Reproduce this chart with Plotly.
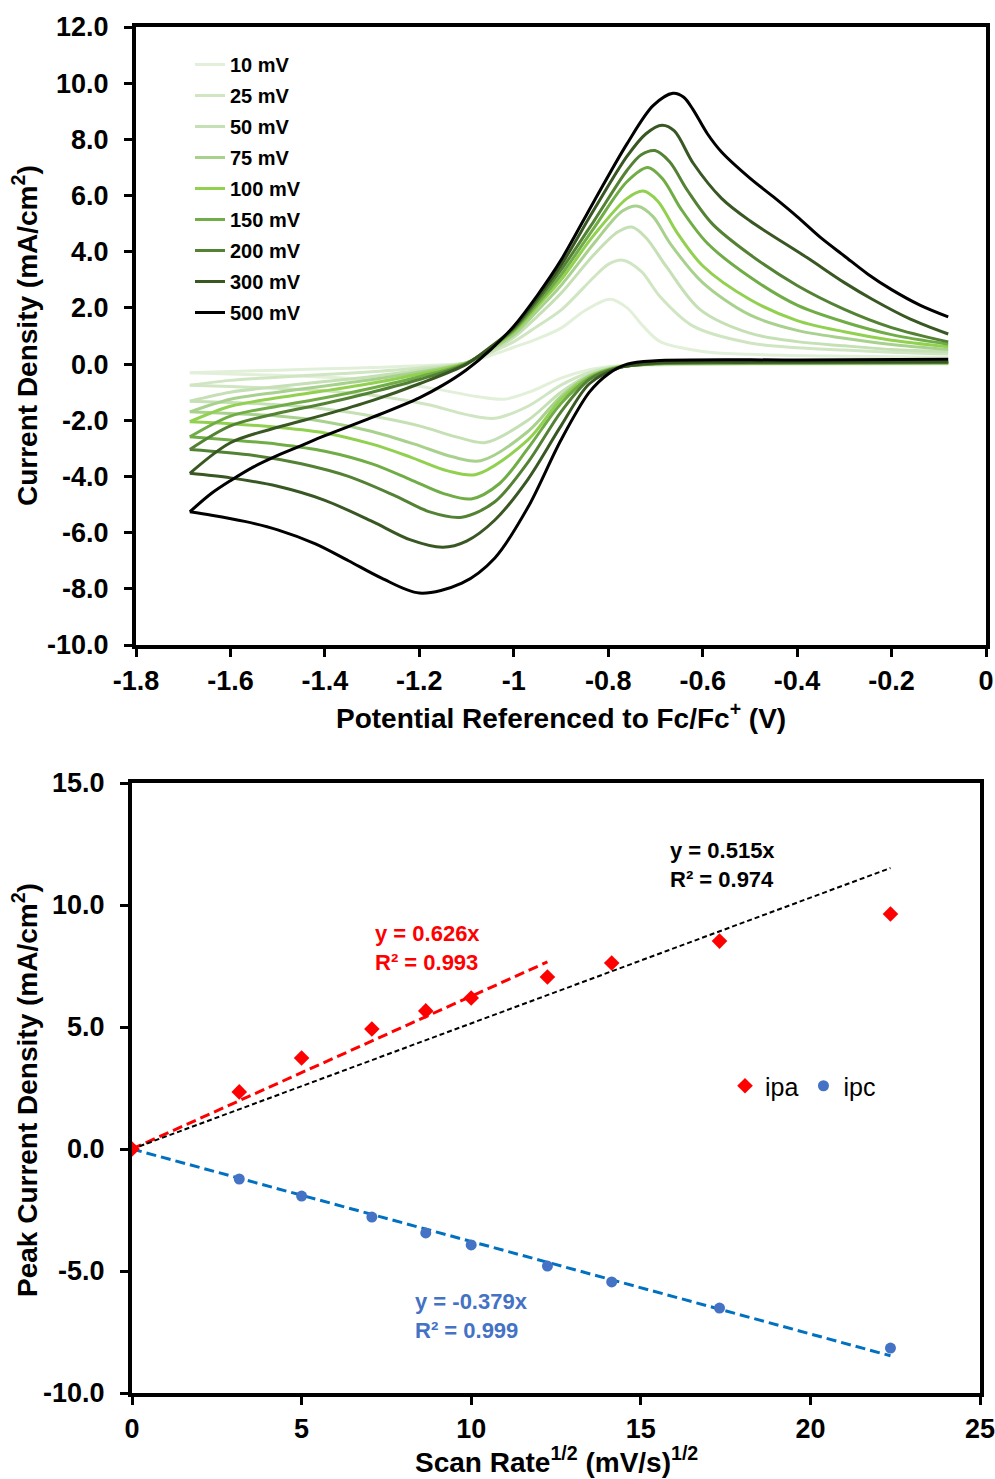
import numpy as np
import plotly.graph_objects as go

# ---------------- Top chart: cyclic voltammograms ----------------
RATES = ["10 mV", "25 mV", "50 mV", "75 mV", "100 mV", "150 mV", "200 mV", "300 mV", "500 mV"]
COLORS = ["#E2F0D9", "#D0E5C2", "#C5E0B4", "#A9D18E", "#92D050", "#70AD47", "#548235", "#385723", "#000000"]

# anodic (forward) branches: potential (V) and current density (mA/cm2)
UV10 = [-1.686, -1.6, -1.5, -1.4, -1.3, -1.2, -1.1, -1.05, -1.0, -0.95, -0.9, -0.85, -0.796, -0.76, -0.726, -0.69, -0.6, -0.5, -0.3, -0.08]
UI10 = [-0.31, -0.26, -0.22, -0.17, -0.12, -0.06, 0.05, 0.3, 0.6, 0.9, 1.28, 1.9, 2.31, 2.0, 1.35, 0.8, 0.45, 0.35, 0.28, 0.24]
UV25 = [-1.686, -1.6, -1.5, -1.4, -1.3, -1.2, -1.1, -1.05, -1.0, -0.95, -0.9, -0.83, -0.8, -0.769, -0.73, -0.69, -0.62, -0.5, -0.4, -0.3, -0.2, -0.08]
UI25 = [-0.75, -0.58, -0.47, -0.37, -0.27, -0.14, 0.05, 0.4, 0.8, 1.35, 1.92, 3.1, 3.55, 3.7, 3.3, 2.4, 1.35, 0.75, 0.58, 0.5, 0.42, 0.36]
UV50 = [-1.686, -1.6, -1.5, -1.4, -1.3, -1.2, -1.1, -1.05, -1.0, -0.95, -0.9, -0.83, -0.78, -0.75, -0.72, -0.676, -0.606, -0.5, -0.4, -0.3, -0.2, -0.08]
UI50 = [-1.32, -1.0, -0.8, -0.62, -0.44, -0.22, 0.05, 0.45, 0.95, 1.7, 2.52, 3.9, 4.7, 4.88, 4.5, 3.45, 1.95, 1.1, 0.8, 0.65, 0.52, 0.44]
UV75 = [-1.686, -1.6, -1.5, -1.4, -1.3, -1.2, -1.1, -1.05, -1.0, -0.95, -0.9, -0.83, -0.77, -0.737, -0.705, -0.669, -0.6, -0.5, -0.4, -0.3, -0.2, -0.08]
UI75 = [-1.70, -1.25, -1.0, -0.78, -0.55, -0.28, 0.05, 0.5, 1.05, 1.9, 2.8, 4.3, 5.45, 5.62, 5.25, 4.3, 2.9, 1.75, 1.2, 0.92, 0.7, 0.52]
UV100 = [-1.686, -1.6, -1.5, -1.4, -1.3, -1.2, -1.1, -1.05, -1.0, -0.95, -0.9, -0.83, -0.76, -0.726, -0.695, -0.655, -0.6, -0.5, -0.4, -0.3, -0.2, -0.08]
UI100 = [-2.05, -1.5, -1.2, -0.95, -0.68, -0.35, 0.04, 0.54, 1.15, 2.05, 3.0, 4.6, 5.9, 6.16, 5.8, 4.7, 3.5, 2.3, 1.55, 1.15, 0.85, 0.62]
UV150 = [-1.686, -1.6, -1.5, -1.4, -1.3, -1.2, -1.1, -1.05, -1.0, -0.95, -0.9, -0.83, -0.76, -0.716, -0.685, -0.645, -0.59, -0.5, -0.4, -0.3, -0.2, -0.08]
UI150 = [-2.59, -1.85, -1.5, -1.2, -0.85, -0.45, 0.03, 0.56, 1.2, 2.15, 3.17, 4.85, 6.5, 7.0, 6.6, 5.5, 4.3, 3.1, 2.1, 1.5, 1.05, 0.71]
UV200 = [-1.686, -1.6, -1.5, -1.4, -1.3, -1.2, -1.1, -1.05, -1.0, -0.95, -0.9, -0.83, -0.76, -0.73, -0.701, -0.67, -0.633, -0.58, -0.5, -0.4, -0.3, -0.2, -0.08]
UI200 = [-3.04, -2.2, -1.75, -1.4, -1.0, -0.55, 0.02, 0.58, 1.25, 2.25, 3.35, 5.1, 6.9, 7.45, 7.6, 7.2, 6.2, 5.0, 3.9, 2.8, 1.95, 1.3, 0.79]
UV300 = [-1.686, -1.6, -1.5, -1.4, -1.3, -1.2, -1.1, -1.05, -1.0, -0.95, -0.9, -0.83, -0.76, -0.72, -0.686, -0.66, -0.62, -0.56, -0.5, -0.38, -0.3, -0.24, -0.16, -0.08]
UI300 = [-3.89, -2.8, -2.25, -1.8, -1.3, -0.7, 0.0, 0.6, 1.3, 2.35, 3.52, 5.5, 7.4, 8.2, 8.5, 8.3, 7.15, 5.9, 5.1, 3.8, 2.9, 2.3, 1.6, 1.07]
UV500 = [-1.686, -1.64, -1.6, -1.55, -1.5, -1.45, -1.4, -1.3, -1.2, -1.15, -1.1, -1.05, -1.0, -0.95, -0.9, -0.83, -0.76, -0.705, -0.663,
         -0.64, -0.62, -0.59, -0.56, -0.5, -0.45, -0.4, -0.35, -0.3, -0.25, -0.2, -0.14, -0.08]
UI500 = [-5.26, -4.6, -4.15, -3.65, -3.25, -2.9, -2.55, -1.9, -1.2, -0.75, -0.2, 0.5, 1.35, 2.45, 3.7, 5.8, 7.85, 9.2, 9.64,
         9.5, 9.05, 8.2, 7.55, 6.62, 5.95, 5.25, 4.5, 3.85, 3.2, 2.65, 2.1, 1.68]

# cathodic (reverse) branches
LV10 = [-0.08, -0.5, -0.7, -0.78, -0.84, -0.9, -0.96, -1.02, -1.08, -1.16, -1.26, -1.38, -1.5, -1.6, -1.686]
LI10 = [0.0, 0.0, -0.02, -0.06, -0.2, -0.5, -0.95, -1.25, -1.15, -0.9, -0.65, -0.48, -0.4, -0.35, -0.31]
LV25 = [-0.08, -0.5, -0.7, -0.78, -0.84, -0.9, -0.97, -1.04, -1.1, -1.18, -1.28, -1.4, -1.5, -1.6, -1.686]
LI25 = [0.02, 0.01, -0.02, -0.08, -0.3, -0.75, -1.5, -1.93, -1.8, -1.45, -1.15, -0.95, -0.86, -0.8, -0.75]
LV50 = [-0.08, -0.5, -0.7, -0.78, -0.84, -0.9, -0.97, -1.06, -1.12, -1.2, -1.3, -1.4, -1.5, -1.6, -1.686]
LI50 = [0.03, 0.02, -0.01, -0.1, -0.38, -1.0, -2.0, -2.79, -2.6, -2.2, -1.85, -1.6, -1.45, -1.37, -1.32]
LV75 = [-0.08, -0.5, -0.7, -0.78, -0.84, -0.9, -0.97, -1.07, -1.13, -1.21, -1.3, -1.4, -1.5, -1.6, -1.686]
LI75 = [0.04, 0.03, 0.0, -0.1, -0.42, -1.15, -2.4, -3.44, -3.3, -2.85, -2.4, -2.05, -1.85, -1.76, -1.70]
LV100 = [-0.08, -0.5, -0.7, -0.78, -0.84, -0.9, -0.97, -1.08, -1.14, -1.22, -1.3, -1.4, -1.5, -1.6, -1.686]
LI100 = [0.05, 0.04, 0.01, -0.11, -0.45, -1.25, -2.7, -3.93, -3.8, -3.3, -2.85, -2.45, -2.25, -2.12, -2.05]
LV150 = [-0.08, -0.5, -0.7, -0.78, -0.84, -0.9, -0.97, -1.03, -1.09, -1.15, -1.22, -1.3, -1.4, -1.5, -1.6, -1.686]
LI150 = [0.05, 0.04, 0.01, -0.12, -0.5, -1.4, -3.0, -4.25, -4.8, -4.6, -4.1, -3.55, -3.1, -2.85, -2.7, -2.59]
LV200 = [-0.08, -0.5, -0.7, -0.78, -0.84, -0.9, -0.97, -1.04, -1.11, -1.18, -1.25, -1.35, -1.45, -1.55, -1.686]
LI200 = [0.06, 0.05, 0.02, -0.13, -0.55, -1.7, -3.5, -4.9, -5.45, -5.25, -4.7, -4.0, -3.55, -3.25, -3.04]
LV300 = [-0.08, -0.5, -0.7, -0.78, -0.84, -0.9, -0.97, -1.04, -1.1, -1.15, -1.22, -1.3, -1.4, -1.5, -1.6, -1.686]
LI300 = [0.08, 0.07, 0.04, -0.15, -0.7, -2.2, -4.1, -5.55, -6.3, -6.52, -6.25, -5.6, -4.85, -4.35, -4.05, -3.89]
LV500 = [-0.08, -0.4, -0.7, -0.76, -0.8, -0.84, -0.9, -0.97, -1.04, -1.11, -1.2, -1.28, -1.35, -1.42, -1.5, -1.57, -1.64, -1.686]
LI500 = [0.17, 0.15, 0.12, 0.0, -0.35, -1.0, -2.7, -5.1, -6.9, -7.8, -8.15, -7.62, -7.0, -6.4, -5.9, -5.6, -5.38, -5.26]

UPPER_V = [UV10, UV25, UV50, UV75, UV100, UV150, UV200, UV300, UV500]
UPPER_I = [UI10, UI25, UI50, UI75, UI100, UI150, UI200, UI300, UI500]
LOWER_V = [LV10, LV25, LV50, LV75, LV100, LV150, LV200, LV300, LV500]
LOWER_I = [LI10, LI25, LI50, LI75, LI100, LI150, LI200, LI300, LI500]

TOP_XTICKS = [-1.8, -1.6, -1.4, -1.2, -1.0, -0.8, -0.6, -0.4, -0.2, 0.0]
TOP_XTEXT = ["-1.8", "-1.6", "-1.4", "-1.2", "-1", "-0.8", "-0.6", "-0.4", "-0.2", "0"]
TOP_YTICKS = [-10, -8, -6, -4, -2, 0, 2, 4, 6, 8, 10, 12]
TOP_YTEXT = ["-10.0", "-8.0", "-6.0", "-4.0", "-2.0", "0.0", "2.0", "4.0", "6.0", "8.0", "10.0", "12.0"]

# ---------------- Bottom chart: peak currents ----------------
SCAN_RATE = [0, 10, 25, 50, 75, 100, 150, 200, 300, 500]
IPA = [0.0, 2.34, 3.73, 4.92, 5.66, 6.19, 7.05, 7.62, 8.52, 9.63]
IPC = [0.0, -1.23, -1.93, -2.79, -3.44, -3.93, -4.80, -5.45, -6.52, -8.16]
SLOPE_IPA_LOW = 0.626   # fit up to 150 mV/s
SLOPE_IPA_ALL = 0.515
SLOPE_IPC = -0.379
BOT_XTICKS = [0, 5, 10, 15, 20, 25]
BOT_XTEXT = ["0", "5", "10", "15", "20", "25"]
BOT_YTICKS = [-10, -5, 0, 5, 10, 15]
BOT_YTEXT = ["-10.0", "-5.0", "0.0", "5.0", "10.0", "15.0"]

W, H = 995, 1479
FONT = "Liberation Sans, Arial, sans-serif"

def px(x):
    return x / W

def py(y):
    return 1 - y / H

fig = go.Figure()

for k in range(len(RATES)):
    fig.add_trace(go.Scatter(
        x=UPPER_V[k], y=UPPER_I[k], mode="lines", name=RATES[k],
        line=dict(color=COLORS[k], width=3, shape="spline", smoothing=0.9),
        legendgroup=RATES[k], legend="legend", xaxis="x", yaxis="y"))
    fig.add_trace(go.Scatter(
        x=LOWER_V[k], y=LOWER_I[k], mode="lines", name=RATES[k],
        line=dict(color=COLORS[k], width=3, shape="spline", smoothing=0.9),
        legendgroup=RATES[k], showlegend=False, xaxis="x", yaxis="y"))

xs = np.sqrt(np.array(SCAN_RATE, dtype=float))
x_low = np.array([0.0, xs[6]])
x_all = np.array([0.0, xs[-1]])

fig.add_trace(go.Scatter(x=x_low, y=SLOPE_IPA_LOW * x_low, mode="lines", showlegend=False,
                         line=dict(color="#FF0000", width=3, dash="10px,5px"), xaxis="x2", yaxis="y2"))
fig.add_trace(go.Scatter(x=x_all, y=SLOPE_IPA_ALL * x_all, mode="lines", showlegend=False,
                         line=dict(color="#000000", width=2, dash="5px,3px"), xaxis="x2", yaxis="y2"))
fig.add_trace(go.Scatter(x=x_all, y=SLOPE_IPC * x_all, mode="lines", showlegend=False,
                         line=dict(color="#0070C0", width=3, dash="10px,5px"), xaxis="x2", yaxis="y2"))
fig.add_trace(go.Scatter(x=xs, y=IPC, mode="markers", name="ipc", legend="legend2", legendrank=2,
                         marker=dict(symbol="circle", size=11, color="#4472C4"), xaxis="x2", yaxis="y2"))
fig.add_trace(go.Scatter(x=xs, y=IPA, mode="markers", name="ipa", legend="legend2", legendrank=1,
                         marker=dict(symbol="diamond", size=12, color="#FF0000"), xaxis="x2", yaxis="y2"))

axis_common = dict(showline=True, linewidth=4, linecolor="black", mirror=True,
                   ticks="outside", ticklen=8, tickwidth=3, tickcolor="black",
                   showgrid=False, zeroline=False, automargin=False, ticklabeloverflow="allow",
                   tickfont=dict(family=FONT, size=27, color="black", weight="bold"))

fig.update_layout(
    width=W, height=H,
    margin=dict(l=0, r=0, t=0, b=0, autoexpand=False),
    paper_bgcolor="white", plot_bgcolor="white",
    xaxis=dict(domain=[px(136), px(986)], range=[-1.8, 0], tickvals=TOP_XTICKS, ticktext=TOP_XTEXT,
               anchor="y", ticklabelstandoff=1, **axis_common),
    yaxis=dict(domain=[py(645), py(27)], range=[-10, 12], tickvals=TOP_YTICKS, ticktext=TOP_YTEXT,
               anchor="x", ticklabelstandoff=10, **axis_common),
    xaxis2=dict(domain=[px(132), px(980)], range=[0, 25], tickvals=BOT_XTICKS, ticktext=BOT_XTEXT,
                anchor="y2", ticklabelstandoff=1, **axis_common),
    yaxis2=dict(domain=[py(1393), py(783)], range=[-10, 15], tickvals=BOT_YTICKS, ticktext=BOT_YTEXT,
                anchor="x2", ticklabelstandoff=10, **axis_common),
    legend=dict(x=px(190), y=py(45), xanchor="left", yanchor="top", bgcolor="rgba(0,0,0,0)",
                font=dict(family=FONT, size=20, color="black", weight="bold"),
                tracegroupgap=2, itemwidth=30),
    legend2=dict(x=px(725), y=py(1086), xanchor="left", yanchor="middle", orientation="h",
                 bgcolor="rgba(0,0,0,0)", font=dict(family=FONT, size=25, color="black"),
                 itemwidth=30),
    showlegend=True,
)

title_font = dict(family=FONT, size=28, color="black", weight="bold")
ann_font = dict(family=FONT, size=22, weight="bold")
fig.add_annotation(x=px(561), y=py(716), xref="paper", yref="paper", showarrow=False,
                   text="Potential Referenced to Fc/Fc<sup>+</sup> (V)", font=title_font,
                   xanchor="center", yanchor="middle")
fig.add_annotation(x=px(25), y=py(336), xref="paper", yref="paper", showarrow=False, textangle=-90,
                   text="Current Density (mA/cm<sup>2</sup>)", font=title_font,
                   xanchor="center", yanchor="middle")
fig.add_annotation(x=px(556), y=py(1460), xref="paper", yref="paper", showarrow=False,
                   text="Scan Rate<sup>1/2</sup> (mV/s)<sup>1/2</sup>", font=title_font,
                   xanchor="center", yanchor="middle")
fig.add_annotation(x=px(25), y=py(1090), xref="paper", yref="paper", showarrow=False, textangle=-90,
                   text="Peak Current Density (mA/cm<sup>2</sup>)", font=title_font,
                   xanchor="center", yanchor="middle")

fig.add_annotation(x=17.4, y=11.64, xref="x2", yref="y2", showarrow=False, align="left",
                   text="y = 0.515x<br>R² = 0.974", font=dict(color="black", **ann_font))
fig.add_annotation(x=8.7, y=8.24, xref="x2", yref="y2", showarrow=False, align="left",
                   text="y = 0.626x<br>R² = 0.993", font=dict(color="#FF0000", **ann_font))
fig.add_annotation(x=10.0, y=-6.84, xref="x2", yref="y2", showarrow=False, align="left",
                   text="y = -0.379x<br>R² = 0.999", font=dict(color="#4472C4", **ann_font))

fig.write_html("out.html")
